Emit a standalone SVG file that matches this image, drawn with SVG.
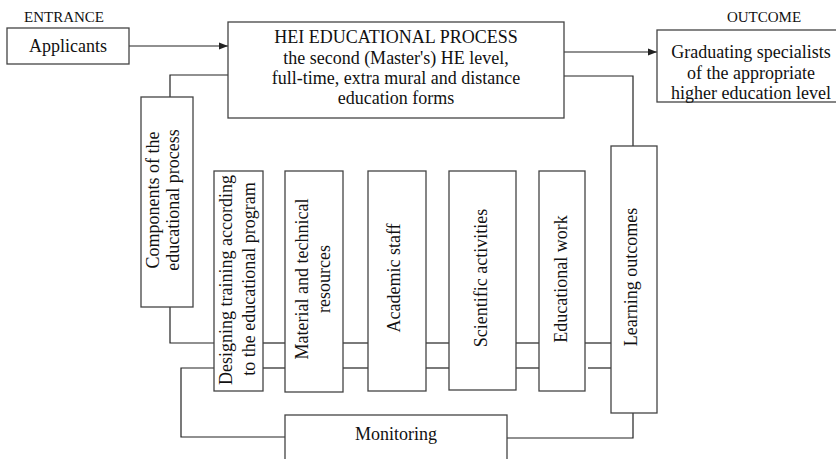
<svg xmlns="http://www.w3.org/2000/svg" width="836" height="459" viewBox="0 0 836 459" font-family="'Liberation Serif', 'Times New Roman', Times, serif" font-size="18">
<style>
.box{fill:#fff;stroke:#444;stroke-width:1.3}
.ln{fill:none;stroke:#222;stroke-width:1.2}
.t{font-family:'Liberation Serif','Times New Roman',Times,serif;fill:#111;font-size:18px;text-anchor:middle}
.lbl{font-size:15px}
</style>
<defs>
<marker id="ah" viewBox="0 0 10 10" refX="10" refY="5" markerWidth="9" markerHeight="9" markerUnits="userSpaceOnUse" orient="auto">
<path d="M0,1 L10,5 L0,9 z" fill="#222"/>
</marker>
</defs>
<rect width="836" height="459" fill="#fff"/>
<g id="connectors">
<line class="ln" x1="129" y1="46" x2="228" y2="46" marker-end="url(#ah)"/>
<line class="ln" x1="564" y1="52" x2="657" y2="52" marker-end="url(#ah)"/>
<polyline class="ln" points="564,76 633,76 633,146"/>
<polyline class="ln" points="228,75 170,75 170,97"/>
<polyline class="ln" points="170,307 170,343 214,343"/>
<polyline class="ln" points="214,368 181,368 181,437 285,437"/>
<polyline class="ln" points="507,438 633,438 633,413"/>
<line class="ln" x1="263" y1="343" x2="285" y2="343"/>
<line class="ln" x1="263" y1="368" x2="285" y2="368"/>
<line class="ln" x1="343" y1="343" x2="368" y2="343"/>
<line class="ln" x1="343" y1="368" x2="368" y2="368"/>
<line class="ln" x1="426" y1="343" x2="449" y2="343"/>
<line class="ln" x1="426" y1="368" x2="449" y2="368"/>
<line class="ln" x1="516" y1="343" x2="539" y2="343"/>
<line class="ln" x1="516" y1="368" x2="539" y2="368"/>
<line class="ln" x1="585" y1="343" x2="611" y2="343"/>
<line class="ln" x1="588" y1="368" x2="611" y2="368"/>
</g>
<g id="entrance-label"><text class="t lbl" x="64" y="22">ENTRANCE</text></g>
<g id="outcome-label"><text class="t lbl" x="764" y="22">OUTCOME</text></g>
<g id="applicants">
<rect class="box" x="7" y="28" width="122" height="36"/>
<text class="t" x="68" y="52">Applicants</text>
</g>
<g id="hei-process">
<rect class="box" x="228" y="22" width="336" height="96"/>
<text class="t" x="396" y="43">HEI EDUCATIONAL PROCESS</text>
<text class="t" x="396" y="64">the second (Master's) HE level,</text>
<text class="t" x="396" y="84">full-time, extra mural and distance</text>
<text class="t" x="396" y="104">education forms</text>
</g>
<g id="graduates">
<rect class="box" x="657" y="30" width="190" height="72"/>
<text class="t" x="751" y="58">Graduating specialists</text>
<text class="t" x="751" y="79">of the appropriate</text>
<text class="t" x="751" y="99">higher education level</text>
</g>
<g id="components">
<rect class="box" x="141" y="97" width="52" height="210"/>
<text class="t" transform="translate(159,200) rotate(-90)">Components of the</text>
<text class="t" transform="translate(179,200) rotate(-90)">educational process</text>
</g>
<g id="designing">
<rect class="box" x="214" y="171" width="49" height="220"/>
<text class="t" transform="translate(232,280) rotate(-90)">Designing training according</text>
<text class="t" transform="translate(255,279) rotate(-90)">to the educational program</text>
</g>
<g id="material">
<rect class="box" x="285" y="171" width="58" height="221"/>
<text class="t" transform="translate(308,279) rotate(-90)">Material and technical</text>
<text class="t" transform="translate(330,279) rotate(-90)">resources</text>
</g>
<g id="academic">
<rect class="box" x="368" y="171" width="58" height="220"/>
<text class="t" transform="translate(400,278) rotate(-90)">Academic staff</text>
</g>
<g id="scientific">
<rect class="box" x="449" y="171" width="67" height="219"/>
<text class="t" transform="translate(487,278) rotate(-90)">Scientific activities</text>
</g>
<g id="educational-work">
<rect class="box" x="539" y="171" width="46" height="220"/>
<text class="t" transform="translate(567,279) rotate(-90)">Educational work</text>
</g>
<g id="learning-outcomes">
<rect class="box" x="611" y="146" width="46" height="267"/>
<text class="t" transform="translate(637,277) rotate(-90)">Learning outcomes</text>
</g>
<g id="monitoring">
<rect class="box" x="285" y="415" width="222" height="60"/>
<text class="t" x="396" y="440">Monitoring</text>
</g>
</svg>
